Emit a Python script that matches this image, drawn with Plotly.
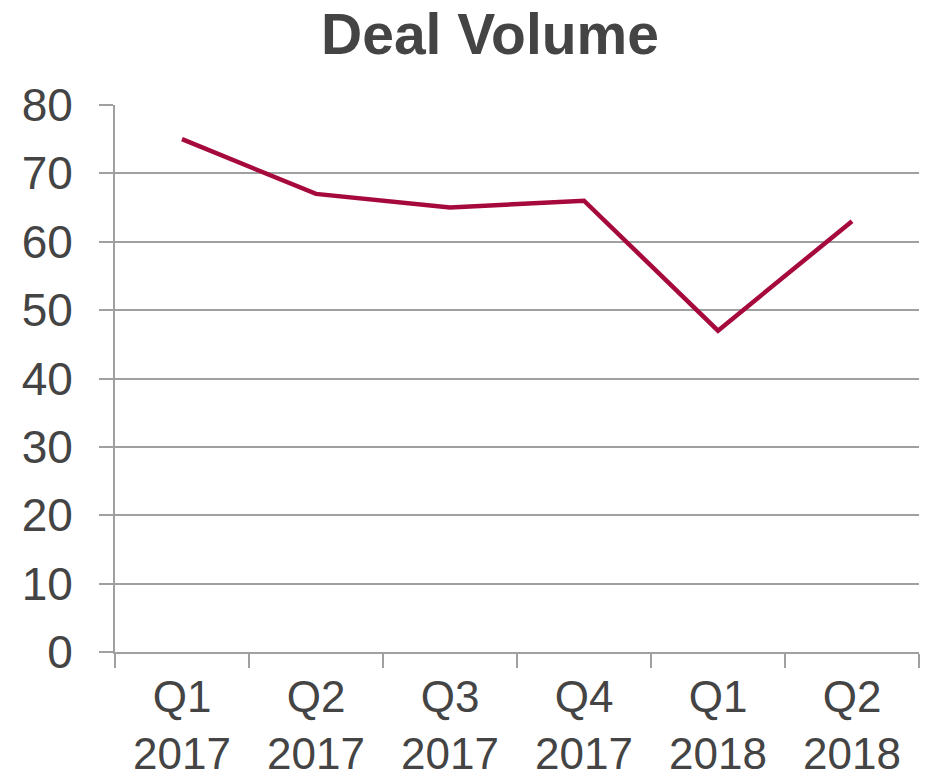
import plotly.graph_objects as go

quarters = ["Q1<br>2017", "Q2<br>2017", "Q3<br>2017", "Q4<br>2017", "Q1<br>2018", "Q2<br>2018"]
deal_volume = [75, 67, 65, 66, 47, 63]
y_ticks = [0, 10, 20, 30, 40, 50, 60, 70, 80]

fig = go.Figure()
fig.add_trace(go.Scatter(
    x=quarters, y=deal_volume, mode="lines",
    line=dict(color="#A6093B", width=4.5),
    showlegend=False,
))

fig.update_layout(
    width=928, height=782,
    margin=dict(l=115, r=9, t=105, b=130, autoexpand=False),
    paper_bgcolor="white", plot_bgcolor="white",
    font=dict(family="Liberation Sans, Arial, sans-serif", color="#444444"),
    title=dict(text="<b>Deal Volume</b>", x=490/928, xanchor="center",
               y=1 - 34/782, yanchor="middle",
               font=dict(size=57, color="#444444")),
)
fig.update_xaxes(
    type="category", range=[-0.5, 5.5], automargin=False,
    tickson="boundaries", ticks="outside", ticklen=14, tickwidth=2, tickcolor="#A0A0A0",
    showline=True, linecolor="#A0A0A0", linewidth=2,
    showgrid=False, tickfont=dict(size=44, color="#444444"),
    ticklabelstandoff=5,
)
fig.update_yaxes(
    range=[0, 80], tickvals=y_ticks, automargin=False,
    ticks="outside", ticklen=14, tickwidth=2, tickcolor="#A0A0A0",
    showline=True, linecolor="#A0A0A0", linewidth=2,
    showgrid=True, gridcolor="#A0A0A0", gridwidth=2,
    zeroline=False,
    tickfont=dict(size=46, color="#444444"),
    ticklabelstandoff=17,
)

fig.write_html("out.html")
